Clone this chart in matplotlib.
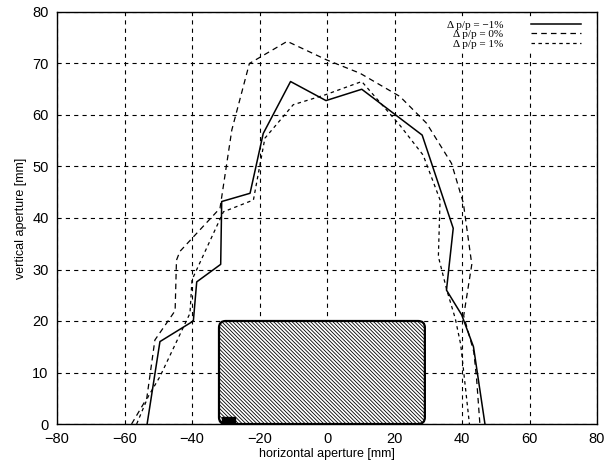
import numpy as np
import matplotlib
matplotlib.use("Agg")
import matplotlib.pyplot as plt
from matplotlib.patches import FancyBboxPatch, Rectangle

# --- data ---

# dp/p = -1 %  (solid)
x_m1 = [-53.3, -49.5, -39.6, -38.6, -31.5, -31.2, -22.8, -18.9, -10.8, -0.3,
        10.3, 28.2, 37.4, 35.4, 39.9, 43.4, 46.8]
y_m1 = [0, 16.0, 20.0, 27.6, 31.0, 43.2, 44.8, 56.4, 66.5, 62.8,
        65.0, 56.1, 38.0, 26.0, 21.2, 15.0, 0]

# dp/p = 0 %  (outer dashed)
x_0 = [-57.9, -53.4, -51.0, -45.0, -44.6, -43.6, -31.7, -28.2, -23.0, -11.8,
       -0.1, 9.8, 21.6, 29.5, 36.9, 40.4, 42.9, 40.5, 43.5, 44.3, 45.3]
y_0 = [0, 5.0, 16.3, 22.0, 31.8, 33.5, 41.9, 57.1, 70.0, 74.3,
       70.7, 68.1, 63.6, 58.4, 50.6, 42.9, 31.0, 21.0, 14.0, 9.0, 0]

# dp/p = 1 %  (inner dashed)
x_p1 = [-56.4, -53.0, -49.5, -40.6, -40.0, -30.7, -21.8, -18.4, -10.0, -0.6,
        10.3, 21.6, 28.5, 33.5, 33.0, 35.5, 38.0, 39.6, 42.2]
y_p1 = [0, 5.3, 9.2, 21.5, 28.0, 41.2, 43.5, 55.5, 62.0, 63.9,
        66.5, 58.0, 52.2, 43.5, 32.5, 26.0, 20.5, 15.5, 0]

labels = ["Δ p/p = −1%", "Δ p/p = 0%", "Δ p/p = 1%"]

# vacuum chamber / beam-stay-clear box
box_x, box_y, box_w, box_h = -32.0, 0.0, 61.0, 20.0
# small black block at the box corner
blk_x, blk_y, blk_w, blk_h = -31.2, 0.0, 3.8, 1.3

xticks = np.arange(-80, 81, 20)
yticks = np.arange(0, 81, 10)

# --- plot ---
plt.rcParams['font.family'] = ['Liberation Sans', 'DejaVu Sans']
plt.rcParams['lines.scale_dashes'] = False
plt.rcParams['hatch.linewidth'] = 0.6

fig = plt.figure(figsize=(6.07, 4.63), dpi=100)
ax = fig.add_axes([57 / 607, 39 / 463, 540 / 607, 412 / 463])

ax.plot(x_m1, y_m1, color='black', lw=1.1, label=labels[0])
ax.plot(x_0, y_0, color='black', lw=0.9, ls=(0, (4, 3)), label=labels[1])
ax.plot(x_p1, y_p1, color='black', lw=0.9, ls=(0, (2.5, 2.5)), label=labels[2])

box = FancyBboxPatch((box_x, box_y), box_w, box_h,
                     boxstyle="round,pad=0,rounding_size=2",
                     mutation_aspect=0.65,
                     facecolor='white', edgecolor='black', lw=1.6,
                     hatch='\\' * 9, zorder=3)
ax.add_patch(box)
ax.add_patch(Rectangle((blk_x, blk_y), blk_w, blk_h, color='black', zorder=4))

ax.set_xlim(-80, 80)
ax.set_ylim(0, 80)
ax.set_xticks(xticks)
ax.set_yticks(yticks)
ax.tick_params(direction='in', length=0, labelsize=10.5, pad=6)
ax.grid(True, color='black', lw=0.8, ls=(0, (3, 3)))
ax.set_axisbelow(True)
for s in ax.spines.values():
    s.set_linewidth(1.0)

ax.set_xlabel("horizontal aperture [mm]", fontsize=9, labelpad=1)
ax.set_ylabel("vertical aperture [mm]", fontsize=9, labelpad=4)

leg = ax.legend(loc='upper right', markerfirst=False, frameon=True,
                prop={'family': 'Liberation Serif', 'size': 8},
                handlelength=4.5, labelspacing=0.0, borderpad=0.2,
                handletextpad=2.5, bbox_to_anchor=(0.985, 1.0))
leg.get_frame().set_facecolor('white')
leg.get_frame().set_edgecolor('white')
leg.get_frame().set_alpha(1)

fig.savefig("out.png", dpi=100)
